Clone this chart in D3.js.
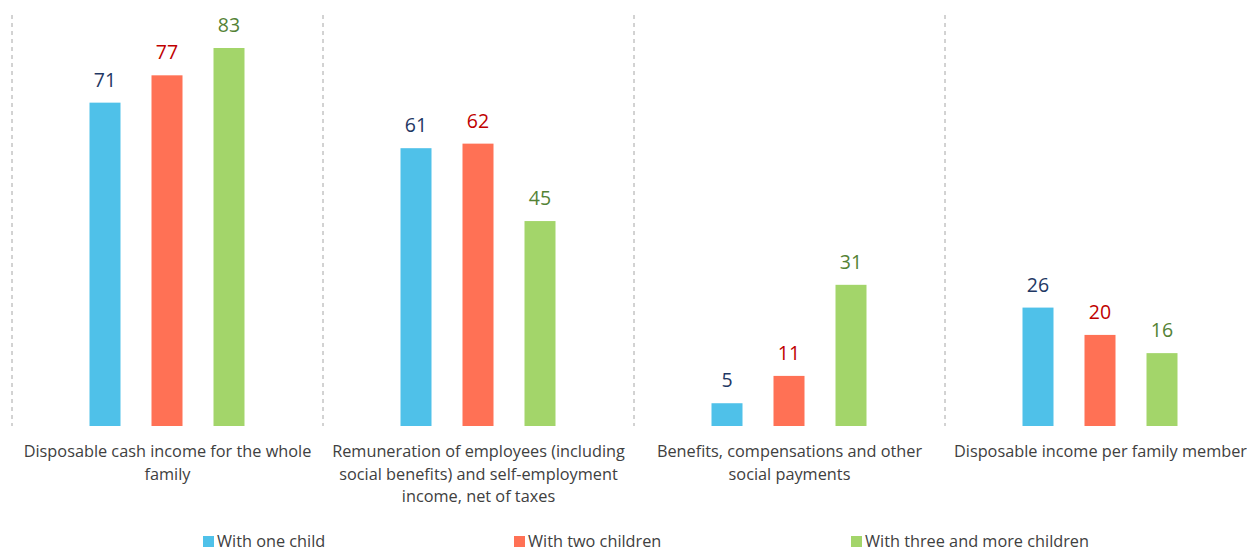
<!DOCTYPE html>
<html>
<head>
<meta charset="utf-8">
<script src="https://cdn.jsdelivr.net/npm/d3@7"></script>
<style>
  html, body { margin: 0; padding: 0; background: #fff; }
  svg { display: block; font-family: "Open Sans", "Liberation Sans", Arial, sans-serif; }
</style>
</head>
<body>
<svg id="chart" width="1247" height="551"></svg>
<script>
// Categories, wrapped into lines for the axis labels
const categories = [
  ["Disposable cash income for the whole", "family"],
  ["Remuneration of employees (including", "social benefits) and self-employment", "income, net of taxes"],
  ["Benefits, compensations and other", "social payments"],
  ["Disposable income per family member"]
];
const seriesNames = ["With one child", "With two children", "With three and more children"];
const oneChild = [71, 61, 5, 26];
const twoChildren = [77, 62, 11, 20];
const threeChildren = [83, 45, 31, 16];

const barColors = ["#4FC1E9", "#FF7155", "#A3D56A"];
const labelColors = ["#1F3864", "#C00000", "#548235"];

const svg = d3.select("#chart");
const series = [oneChild, twoChildren, threeChildren];

const left = 12, groupW = 311, baseY = 426;
const x0 = d3.scaleBand().domain(d3.range(categories.length))
  .range([left, left + groupW * categories.length]).paddingInner(0).paddingOuter(0);
const x1 = d3.scaleBand().domain(d3.range(series.length))
  .range([93 - 31 / 2, 93 + 62 * 2 + 31 / 2]).paddingInner(31 / 62).paddingOuter(0);
const y = d3.scaleLinear().domain([0, 83]).range([baseY, 48]);

// dashed separators between groups
const seps = d3.range(categories.length + 1).map(i => left + groupW * i);
svg.append("g").selectAll("line").data(seps).join("line")
  .attr("x1", d => d).attr("x2", d => d)
  .attr("y1", 15).attr("y2", baseY)
  .attr("stroke", "#A6A6A6").attr("stroke-width", 1)
  .attr("stroke-dasharray", "4,4");

const groups = svg.append("g").selectAll("g").data(categories).join("g")
  .attr("transform", (d, i) => `translate(${x0(i)},0)`);

groups.each(function(cat, ci) {
  const g = d3.select(this);
  series.forEach((s, si) => {
    const v = s[ci];
    g.append("rect")
      .attr("x", x1(si)).attr("width", x1.bandwidth())
      .attr("y", y(v)).attr("height", baseY - y(v))
      .attr("fill", barColors[si]);
    g.append("text")
      .attr("x", x1(si) + x1.bandwidth() / 2)
      .attr("y", y(v) - 16)
      .attr("text-anchor", "middle")
      .attr("font-size", 19.5)
      .attr("fill", labelColors[si])
      .text(v);
  });
  const t = g.append("text")
    .attr("text-anchor", "middle")
    .attr("font-size", 16.3)
    .attr("fill", "#404040");
  cat.forEach((line, li) => {
    t.append("tspan").attr("x", groupW / 2).attr("y", 457 + li * 22.5).text(line);
  });
});

// legend
const legendX = [203, 514, 851];
const legend = svg.append("g").selectAll("g").data(seriesNames).join("g")
  .attr("transform", (d, i) => `translate(${legendX[i]},536)`);
legend.append("rect").attr("width", 11).attr("height", 11).attr("fill", (d, i) => barColors[i]);
legend.append("text").attr("x", 14).attr("y", 10.5).attr("font-size", 16.3).attr("fill", "#404040").text(d => d);
</script>
</body>
</html>
